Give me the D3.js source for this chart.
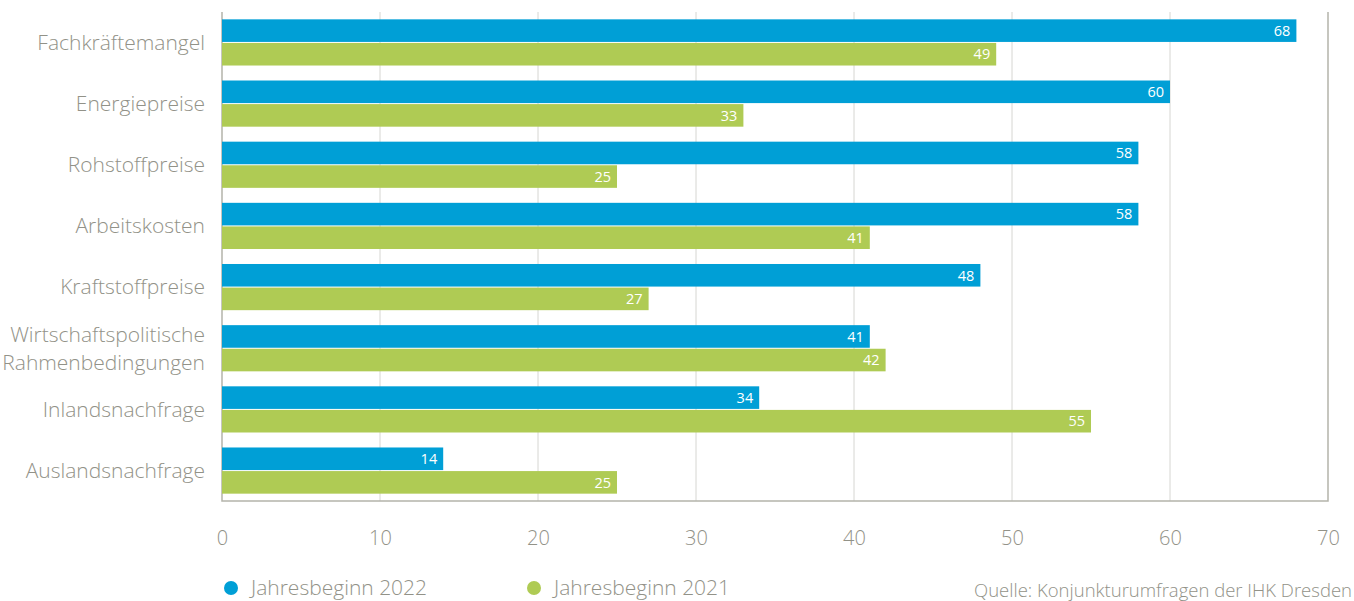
<!DOCTYPE html>
<html>
<head>
<meta charset="utf-8">
<script src="https://cdn.jsdelivr.net/npm/d3@7"></script>
<style>
  html, body { margin: 0; padding: 0; background: #fff; }
  svg { display: block; font-family: "Open Sans", "Noto Sans", sans-serif; }
</style>
</head>
<body>
<svg id="chart" width="1354" height="601"></svg>
<script>
// Hemmnisse der wirtschaftlichen Entwicklung (Anteil in %)
const categories = [
  ["Fachkräftemangel"],
  ["Energiepreise"],
  ["Rohstoffpreise"],
  ["Arbeitskosten"],
  ["Kraftstoffpreise"],
  ["Wirtschaftspolitische", "Rahmenbedingungen"],
  ["Inlandsnachfrage"],
  ["Auslandsnachfrage"]
];
const values2022 = [68, 60, 58, 58, 48, 41, 34, 14];
const values2021 = [49, 33, 25, 41, 27, 42, 55, 25];
const xTicks = [0, 10, 20, 30, 40, 50, 60, 70];
const seriesNames = ["Jahresbeginn 2022", "Jahresbeginn 2021"];
const sourceNote = "Quelle: Konjunkturumfragen der IHK Dresden";

const colors = ["#009fd6", "#afcb54"];
const textColor = "#929288";

const svg = d3.select("#chart");
const margin = { left: 222, right: 1328, top: 12, bottom: 501 };

const x = d3.scaleLinear().domain([0, 70]).range([margin.left, margin.right]);
const y = d3.scaleBand()
  .domain(d3.range(categories.length))
  .range([margin.top, margin.bottom])
  .paddingInner(0.245)
  .paddingOuter(0.12);

// vertical grid lines
svg.append("g")
  .selectAll("line")
  .data(xTicks.slice(1, -1))
  .join("line")
  .attr("x1", d => x(d)).attr("x2", d => x(d))
  .attr("y1", margin.top).attr("y2", margin.bottom)
  .attr("stroke", "#d6d6d2").attr("stroke-width", 1);

// frame: left, bottom and right edges
svg.append("path")
  .attr("d", `M${x(0)},${margin.top}V${margin.bottom}H${x(70)}V${margin.top}`)
  .attr("fill", "none").attr("stroke", "#b4b4aa").attr("stroke-width", 1.5);

// x axis labels
const xAxis = d3.axisBottom(x).tickValues(xTicks).tickSize(0).tickPadding(0);
const gx = svg.append("g").attr("transform", `translate(0,${margin.bottom})`).call(xAxis);
gx.select(".domain").remove();
gx.selectAll("text")
  .attr("dy", null).attr("y", 44)
  .attr("font-size", 20).attr("fill", textColor)
  .attr("font-family", "'Open Sans', sans-serif").attr("font-weight", 300);

// bars
const barH = y.bandwidth() / 2 - 0.5;
const groups = svg.append("g").selectAll("g")
  .data(categories.map((c, i) => ({ c, i, v: [values2022[i], values2021[i]] })))
  .join("g");

[0, 1].forEach(s => {
  const yOff = s === 0 ? 0 : barH + 1;
  groups.append("rect")
    .attr("x", x(0))
    .attr("y", d => y(d.i) + yOff)
    .attr("width", d => x(d.v[s]) - x(0))
    .attr("height", barH)
    .attr("fill", colors[s]);
  groups.append("text")
    .attr("x", d => x(d.v[s]) - 6)
    .attr("y", d => y(d.i) + yOff + barH / 2)
    .attr("dy", "0.36em")
    .attr("text-anchor", "end")
    .attr("font-size", 14.5)
    .attr("fill", "#fff")
    .text(d => d.v[s]);
});

// category labels
groups.append("text")
  .attr("text-anchor", "end")
  .attr("font-size", 21).attr("font-weight", 300)
  .attr("fill", textColor)
  .attr("transform", d => `translate(205,${y(d.i) + y.bandwidth() / 2})`)
  .each(function(d) {
    const t = d3.select(this);
    const n = d.c.length;
    d.c.forEach((line, k) => {
      t.append("tspan")
        .attr("x", 0)
        .attr("y", (k - (n - 1) / 2) * 28)
        .attr("dy", "0.35em")
        .text(line);
    });
  });

// legend
const legendX = [231, 534];
seriesNames.forEach((name, i) => {
  svg.append("circle").attr("cx", legendX[i]).attr("cy", 588).attr("r", 7).attr("fill", colors[i]);
  svg.append("text")
    .attr("x", legendX[i] + 20).attr("y", 588).attr("dy", "0.35em")
    .attr("font-size", 21).attr("font-weight", 300).attr("fill", textColor)
    .text(name);
});

// source note
svg.append("text")
  .attr("x", 1352).attr("y", 597)
  .attr("text-anchor", "end")
  .attr("font-size", 18.5).attr("font-weight", 300).attr("fill", textColor)
  .text(sourceNote);
</script>
</body>
</html>
